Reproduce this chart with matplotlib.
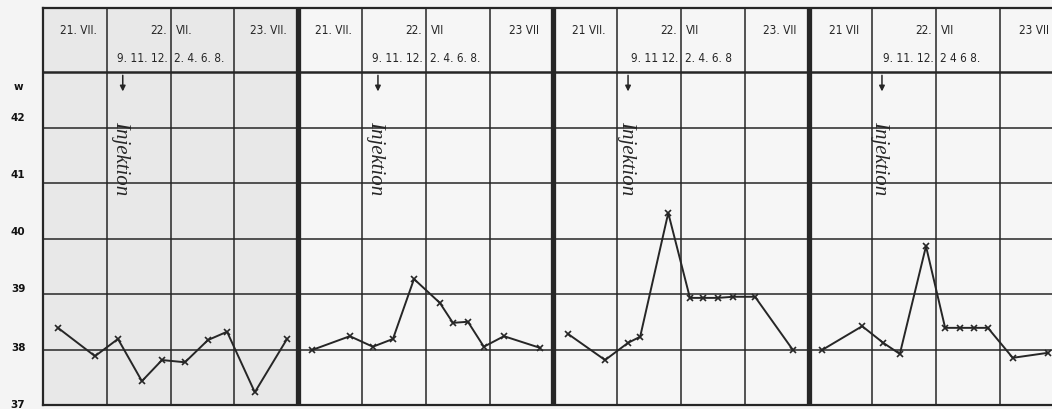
"""Temperature curves of four animals around an injection (scanned chart)."""

import matplotlib
matplotlib.use("Agg")
import matplotlib.pyplot as plt

# x = position inside one chart, in columns (0..4): 21 VII / 22 VII am / 22 VII pm / 23 VII
t1 = [0.235, 0.815, 1.175, 1.55, 1.865, 2.225, 2.585, 2.885, 3.32, 3.825]
temp1 = [38.39, 37.88, 38.19, 37.43, 37.81, 37.77, 38.17, 38.32, 37.23, 38.19]

t2 = [0.215, 0.81, 1.17, 1.485, 1.815, 2.22, 2.425, 2.66, 2.91, 3.225, 3.79]
temp2 = [37.99, 38.24, 38.05, 38.19, 39.27, 38.84, 38.48, 38.50, 38.05, 38.24, 38.03]

t3 = [0.23, 0.81, 1.17, 1.36, 1.80, 2.14, 2.345, 2.58, 2.815, 3.16, 3.755]
temp3 = [38.28, 37.81, 38.12, 38.23, 40.46, 38.93, 38.93, 38.93, 38.95, 38.95, 37.99]

t4 = [0.21, 0.84, 1.17, 1.43, 1.84, 2.14, 2.37, 2.59, 2.81, 3.20, 3.75]
temp4 = [37.99, 38.42, 38.12, 37.92, 39.86, 38.39, 38.39, 38.39, 38.39, 37.85, 37.94]

injection_t = [1.25, 1.25, 1.17, 1.15]

day_labels = [
    ["21. VII.", "22.", "VII.", "23. VII."],
    ["21. VII.", "22.", "VII", "23 VII"],
    ["21 VII.", "22.", "VII", "23. VII"],
    ["21 VII", "22.", "VII", "23 VII"],
]
hour_labels = [
    ["9. 11. 12.", "2. 4. 6. 8."],
    ["9. 11. 12.", "2. 4. 6. 8."],
    ["9. 11 12.", "2. 4. 6. 8"],
    ["9. 11. 12.", "2 4 6 8."],
]

ytick_vals = [42, 41, 40, 39, 38, 37]
ytick_pos = [42.17, 41.14, 40.12, 39.09, 38.03, 37.0]

INK = "#262626"
PX_PER_DEG = 55.5
TOP = 37 + 397 / PX_PER_DEG  # header top

fig = plt.figure(figsize=(10.52, 4.09), dpi=100, facecolor="#f4f4f4")
ax = fig.add_axes([43 / 1052, 4 / 409, 1009 / 1052, 397 / 409])
ax.set_facecolor("#f6f6f6")
ax.set_xlim(0, 1009 / 63.8)
ax.set_ylim(37, TOP)
ax.set_xticks([])
ax.set_yticks([])
for side in ["left", "top", "bottom"]:
    ax.spines[side].set_linewidth(1.6)
    ax.spines[side].set_color(INK)
ax.spines["right"].set_visible(False)

# greyish scan shading on the first chart
ax.axvspan(0, 4, color="#e8e8e8", zorder=0, lw=0)

# grid
for k in range(1, 17):
    heavy = k % 4 == 0
    ax.axvline(k, color=INK, lw=3.8 if heavy else 1.1, zorder=1)
for deg in range(38, 43):
    ax.axhline(deg, color=INK, lw=1.1, zorder=1)
ax.axhline(43, color=INK, lw=1.8, zorder=1)

# curves
series = [(t1, temp1), (t2, temp2), (t3, temp3), (t4, temp4)]
for i, (t, temp) in enumerate(series):
    x = [4 * i + v for v in t]
    ax.plot(x, temp, color=INK, lw=1.4, marker="x", ms=5, mew=1.2, zorder=3)

# header
row1 = 37 + (405 - 30) / PX_PER_DEG
row2 = 37 + (405 - 58) / PX_PER_DEG
hfont = dict(fontsize=8.5, color=INK, va="center", fontstretch="condensed")
for i in range(4):
    x0 = 4 * i
    d = day_labels[i]
    ax.text(x0 + 0.55, row1, d[0], ha="center", **hfont)
    ax.text(x0 + 1.94, row1, d[1], ha="right", **hfont)
    ax.text(x0 + 2.08, row1, d[2], ha="left", **hfont)
    ax.text(x0 + 3.54, row1, d[3], ha="center", **hfont)
    h = hour_labels[i]
    ax.text(x0 + 1.96, row2, h[0], ha="right", **hfont)
    ax.text(x0 + 2.06, row2, h[1], ha="left", **hfont)

    xi = x0 + injection_t[i]
    ax.annotate("", xy=(xi, 42.6), xytext=(xi, 42.99),
                arrowprops=dict(arrowstyle="-|>", color=INK, lw=1.1,
                                mutation_scale=8), zorder=4)
    ax.text(xi - 0.03, 41.45, "Injektion", rotation=-90, ha="center",
            va="center", fontsize=15, style="italic",
            family="Liberation Serif", color=INK, zorder=4)

# y labels
for v, p in zip(ytick_vals, ytick_pos):
    ax.text(-0.39, p, str(v), ha="center", va="center", fontsize=7.5,
            fontweight="bold", color="#111111", clip_on=False)
ax.text(-0.39, 42.73, "w", ha="center", va="center", fontsize=7.5,
        fontweight="bold", color="#111111", clip_on=False)

fig.savefig("out.png", dpi=100, facecolor=fig.get_facecolor())
